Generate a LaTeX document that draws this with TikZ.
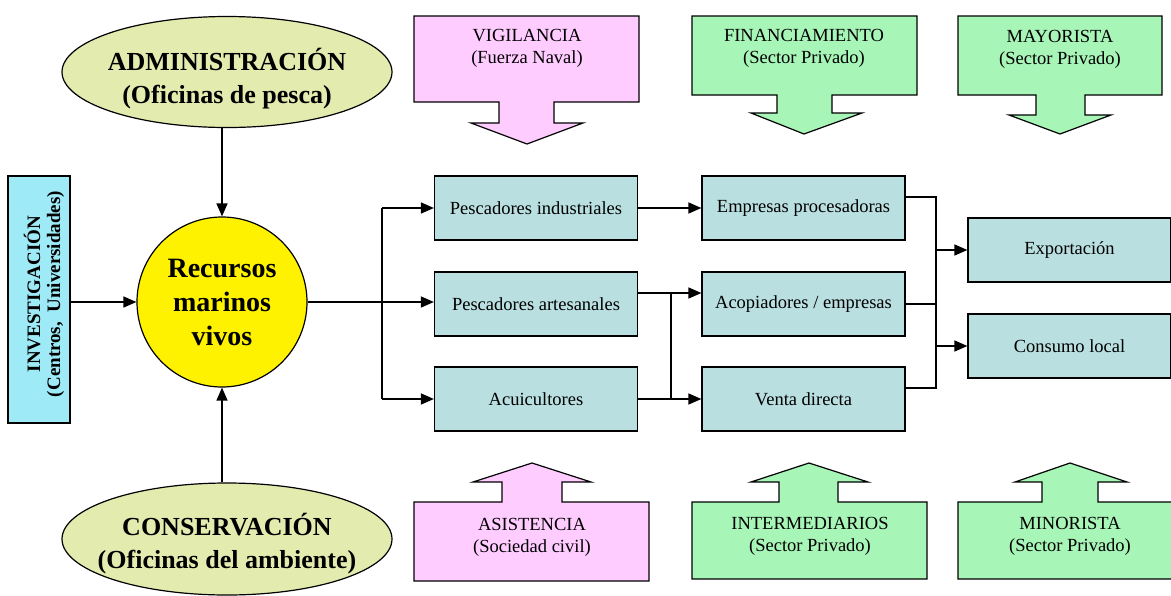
\documentclass[tikz,border=0pt]{standalone}
\usepackage{fontspec}
\setmainfont{Liberation Serif}
\usetikzlibrary{shapes.geometric,arrows.meta,calc}
\definecolor{ellc}{HTML}{E4EBAF}
\definecolor{pinkc}{HTML}{FFCCFF}
\definecolor{greenc}{HTML}{A8F5B8}
\definecolor{boxc}{HTML}{B9DFE1}
\definecolor{invc}{HTML}{9EEAF7}
\begin{document}
\begin{tikzpicture}[x=1pt,y=-1pt,
  stepbox/.style={draw, line width=1.2pt, fill=boxc, minimum width=203pt, minimum height=64pt, inner sep=0pt, font=\fontsize{18.5}{22}\selectfont},
  arr/.style={line width=1.3pt, -{Triangle[length=13pt,width=11pt]}},
  ln/.style={line width=1.3pt},
  callout/.style={draw, line width=1.2pt},
  calltext/.style={align=center, inner sep=0pt, font=\fontsize{18.5}{22}\selectfont},
  ell/.style={ellipse, draw, line width=1.2pt, fill=ellc, minimum width=330pt, inner sep=0pt},
  elltext/.style={align=center, inner sep=0pt, font=\bfseries\fontsize{26}{33}\selectfont}]
\clip (0,0) rectangle (1171,595);
\fill[white] (0,0) rectangle (1171,595);

% ellipses
\node[ell, minimum height=111pt] (adm) at (227,72) {};
\node[elltext] (admt) at (227,79) {ADMINISTRACIÓN\\(Oficinas de pesca)};
\node[ell, minimum height=112pt] (cons) at (227,539) {};
\node[elltext] (const) at (227,544) {CONSERVACIÓN\\(Oficinas del ambiente)};

% central circle
\node[circle, draw, line width=1.2pt, fill=yellow, minimum size=170pt, inner sep=0pt, align=center, font=\bfseries\fontsize{28}{34}\selectfont] (rec) at (222,302) {Recursos\\marinos\\vivos};

% investigacion
\node[draw, line width=1.2pt, fill=invc, minimum width=62pt, minimum height=247pt, inner sep=0pt] (inv) at (39,299.5) {};
\node[rotate=90, align=center, inner sep=0pt, font=\bfseries\fontsize{19}{20}\selectfont] (invt) at (44,294) {INVESTIGACIÓN\\(Centros,\ \ Universidades)};

% middle boxes
\node[stepbox] (pi) at (536,208) {Pescadores industriales};
\node[stepbox] (pa) at (536,304) {Pescadores artesanales};
\node[stepbox] (acu) at (536,399) {Acuicultores};
\node[stepbox] (ep) at (803.5,208) {Empresas procesadoras};
\node[stepbox] (ac) at (803.5,304) {Acopiadores / empresas};
\node[stepbox] (vd) at (803.5,399) {Venta directa};
\node[stepbox] (exp) at (1069.5,250) {Exportación};
\node[stepbox] (cl) at (1069.5,346) {Consumo local};

% callouts top
\path[callout, fill=pinkc] (414,16) -- (639,16) -- (639,102) -- (554,102) -- (554,123) -- (583,123) -- (527,144) -- (471,123) -- (499,123) -- (499,102) -- (414,102) -- cycle;
\node[calltext] (vig) at (527,48) {VIGILANCIA\\(Fuerza Naval)};
\path[callout, fill=greenc] (692,16) -- (917,16) -- (917,95) -- (832,95) -- (832,113) -- (862,113) -- (804,134) -- (751,113) -- (777,113) -- (777,95) -- (692,95) -- cycle;
\node[calltext] (fin) at (804,48) {FINANCIAMIENTO\\(Sector Privado)};
\path[callout, fill=greenc] (958,16) -- (1162,16) -- (1162,95) -- (1085,95) -- (1085,115) -- (1111,115) -- (1060,134) -- (1009,115) -- (1036,115) -- (1036,95) -- (958,95) -- cycle;
\node[calltext] (may) at (1060,49) {MAYORISTA\\(Sector Privado)};

% callouts bottom
\path[callout, fill=pinkc] (414,581) -- (649,581) -- (649,502) -- (562,502) -- (562,482) -- (591,482) -- (532,463) -- (473,482) -- (502,482) -- (502,502) -- (414,502) -- cycle;
\node[calltext] (asi) at (532,537) {ASISTENCIA\\(Sociedad civil)};
\path[callout, fill=greenc] (692,579) -- (927,579) -- (927,502) -- (838,502) -- (838,482) -- (868,482) -- (809,463) -- (751,482) -- (779,482) -- (779,502) -- (692,502) -- cycle;
\node[calltext] (int) at (810,536) {INTERMEDIARIOS\\(Sector Privado)};
\path[callout, fill=greenc] (958,579) -- (1185,579) -- (1185,502) -- (1098,502) -- (1098,482) -- (1127,482) -- (1070,463) -- (1015,482) -- (1042,482) -- (1042,502) -- (958,502) -- cycle;
\node[calltext] (min) at (1070,536) {MINORISTA\\(Sector Privado)};

% connectors
\coordinate (busL) at (382,302);
\coordinate (busM) at (671,0);
\coordinate (busR) at (936,0);
\draw[arr] (rec.north |- adm.south) -- (rec.north);
\draw[arr] (rec.south |- cons.north) -- (rec.south);
\draw[arr] (rec.west -| inv.east) -- (rec.west);

\draw[ln] (rec.east) -- (busL);
\draw[ln] (pi.west -| busL) -- (acu.west -| busL);
\draw[arr] (pi.west -| busL) -- (pi.west);
\draw[arr] (busL) -- (busL -| pa.west);
\draw[arr] (acu.west -| busL) -- (acu.west);

\coordinate (pa1) at ([yshift=11pt]pa.east);
\draw[arr] (pi) -- (ep);
\draw[arr] (pa1) -- (pa1 -| ac.west);
\draw[arr] (acu.east) -- (vd.west);
\draw[ln] (pa1 -| busM) -- (acu.east -| busM);

\coordinate (ep1) at ([yshift=11pt]ep.east);
\coordinate (vd1) at ([yshift=11pt]vd.east);
\draw[ln] (ep1) -- (ep1 -| busR) -- (vd1 -| busR) -- (vd1);
\draw[ln] (ac.east) -- (ac.east -| busR);
\draw[arr] (exp.west -| busR) -- (exp.west);
\draw[arr] (cl.west -| busR) -- (cl.west);
\end{tikzpicture}
\end{document}
